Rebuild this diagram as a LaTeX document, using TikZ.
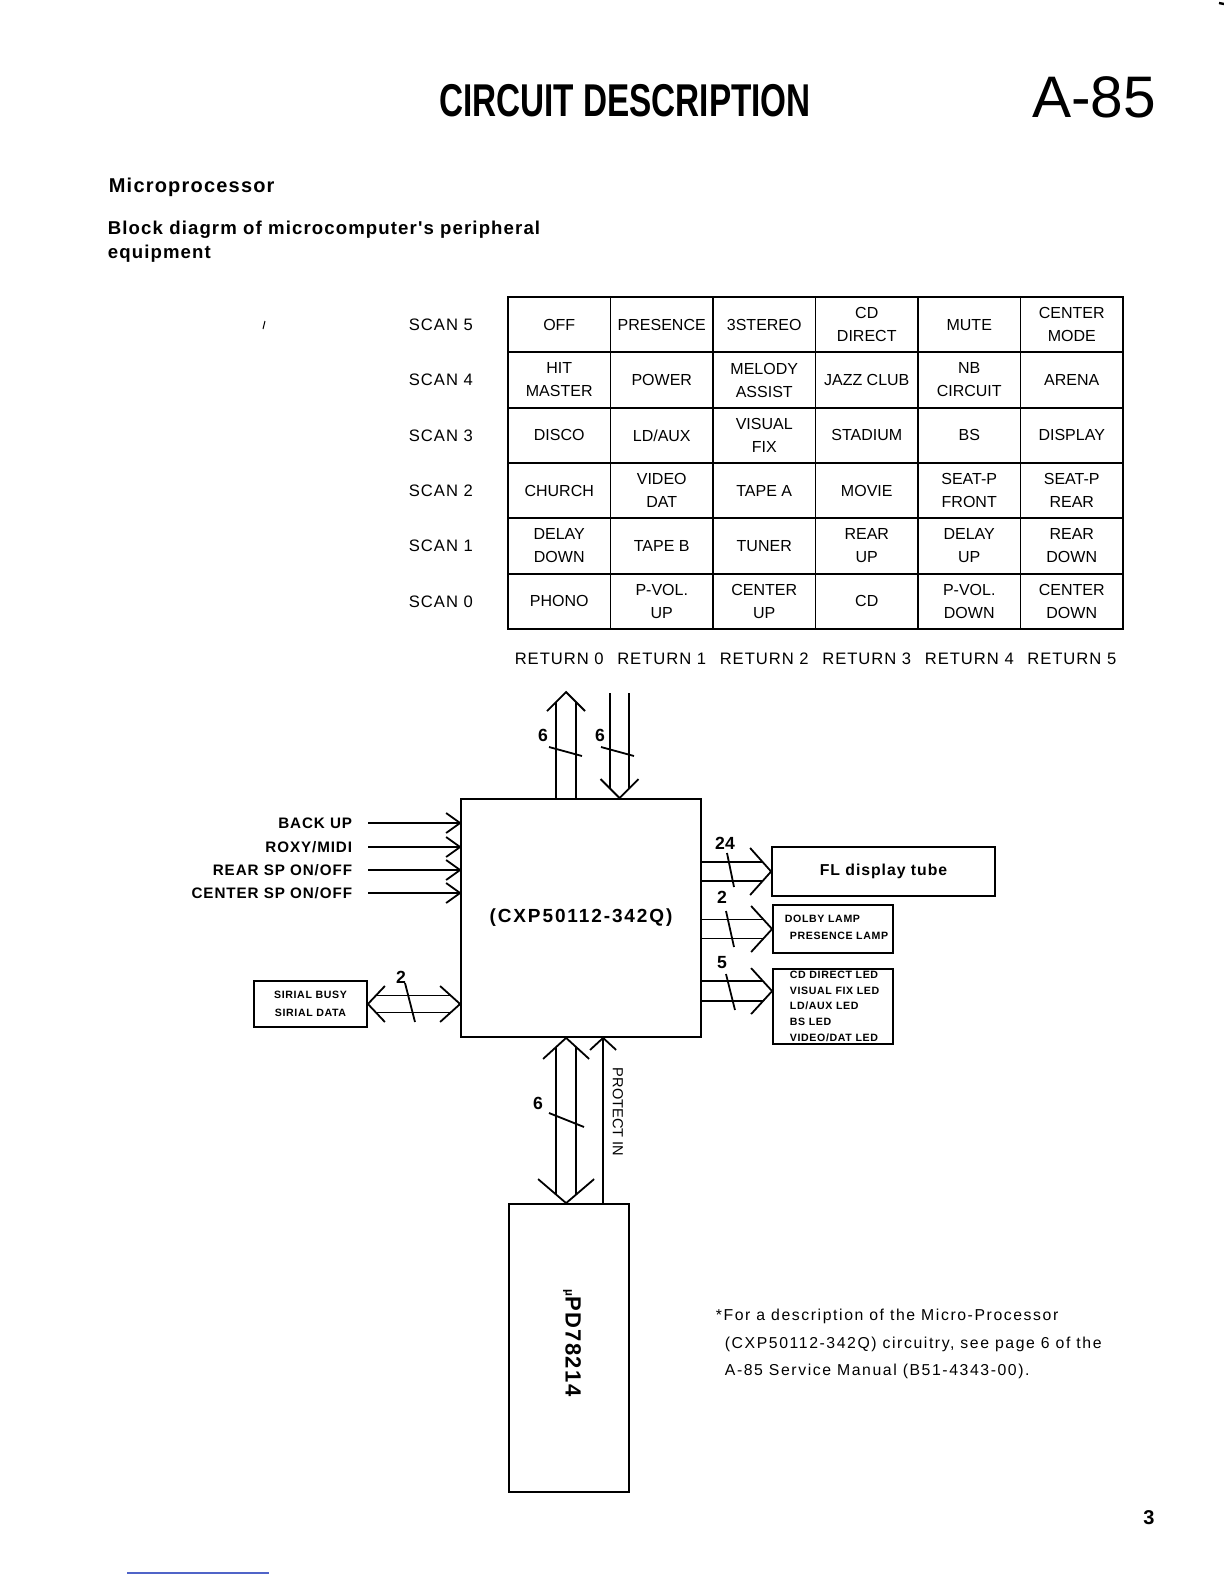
\documentclass[tikz,border=0pt]{standalone}
\usepackage{fontspec}
\setmainfont{Liberation Sans}
\newfontfamily\trk[LetterSpace=6]{Liberation Sans}
\newfontfamily\trkw[LetterSpace=10]{Liberation Sans}
\usetikzlibrary{calc}
\definecolor{scanblue}{RGB}{80,100,200}
\newcommand\chev[4]{\draw[shift={#1},rotate=#2] (-#3,-#4) -- (0,0) -- (-#3,#4);}
\begin{document}
\begin{tikzpicture}[x=0.5pt,y=-0.5pt,line width=0.9pt,
 cell/.style={draw,minimum width=51.25pt,minimum height=27.67pt,inner sep=0pt,align=center,font=\fontsize{8}{11.5}\selectfont},
 tlbl/.style={inner sep=0pt,font=\trk\fontsize{8.3}{10}\selectfont},
 inlbl/.style={anchor=east,inner sep=0pt,font=\trk\bfseries\fontsize{7.6}{9}\selectfont},
 num/.style={inner sep=0pt,font=\bfseries\fontsize{8.8}{10}\selectfont},
 tiny/.style={inner sep=0pt,anchor=west,font=\trk\bfseries\fontsize{5.3}{8.85}\selectfont},
 blk/.style={draw,inner sep=0pt},
 note/.style={inner sep=0pt,anchor=base west,font=\trkw\fontsize{7.9}{10}\selectfont}]
\useasboundingbox (0,0) rectangle (1224,1584);
\fill[white] (0,0) rectangle (1224,1584);

% header
\node[inner sep=0pt,anchor=base] (title) at (625,117) {\fontsize{23}{24}\selectfont\bfseries\scalebox{0.724}[1]{CIRCUIT DESCRIPTION}};
\node[inner sep=0pt,anchor=base] (model) at (1094,118) {\fontsize{29.3}{30}\selectfont A-85};
\node[inner sep=0pt,anchor=base west] (sec) at (108,192) {\trk\bfseries\fontsize{10}{12}\selectfont Microprocessor};
\node[inner sep=0pt,anchor=base west] (sub1) at (107,234) {\trk\bfseries\fontsize{9.3}{12}\selectfont Block diagrm of microcomputer's peripheral};
\node[inner sep=0pt,anchor=base west] (sub2) at (107,258) {\trk\bfseries\fontsize{9.3}{12}\selectfont equipment};

% key matrix
\foreach \row [count=\r from 0] in {
 {OFF,PRESENCE,3STEREO,{CD\\DIRECT},MUTE,{CENTER\\MODE}},
 {{HIT\\MASTER},POWER,{MELODY\\ASSIST},JAZZ CLUB,{NB\\CIRCUIT},ARENA},
 {DISCO,LD/AUX,{VISUAL\\FIX},STADIUM,BS,DISPLAY},
 {CHURCH,{VIDEO\\DAT},TAPE A,MOVIE,{SEAT-P\\FRONT},{SEAT-P\\REAR}},
 {{DELAY\\DOWN},TAPE B,TUNER,{REAR\\UP},{DELAY\\UP},{REAR\\DOWN}},
 {PHONO,{P-VOL.\\UP},{CENTER\\UP},CD,{P-VOL.\\DOWN},{CENTER\\DOWN}}}
 {\foreach \t [count=\c from 0] in \row
   {\node[cell] (cell-\r-\c) at (559.25+102.5*\c,324.67+55.33*\r) {\t};}}
\foreach \s [count=\r from 0] in {5,4,3,2,1,0}
 {\node[tlbl,anchor=west] (scan\s) at (408,324.67+55.33*\r) {SCAN \s};}
\foreach \k in {0,...,5}
 {\node[tlbl] (ret\k) at (559.25+102.5*\k,659) {RETURN \k};}

% main processor
\node[blk,minimum width=120pt,minimum height=119pt,font=\trkw\bfseries\fontsize{9.5}{11}\selectfont] (cxp) at (581,918) {(CXP50112-342Q)};

% inputs
\node[inlbl] (bu) at (353,823) {BACK UP};
\node[inlbl] (rm) at (353,847) {ROXY/MIDI};
\node[inlbl] (rs) at (353,870) {REAR SP ON/OFF};
\node[inlbl] (cs) at (353,893) {CENTER SP ON/OFF};
\foreach \n in {bu,rm,rs,cs}
 {\draw ([xshift=7.5pt]\n.east) -- (\n.east -| cxp.west);
  \chev{(\n.east -| cxp.west)}{0}{14}{10}}

% right outputs
\node[blk,minimum width=111.5pt,minimum height=24.5pt,font=\trk\bfseries\fontsize{7.9}{9}\selectfont] (fl) at (883.5,871.5) {FL display tube};
\node[blk,minimum width=60pt,minimum height=24pt] (dolby) at (833,929) {};
\node[blk,minimum width=60pt,minimum height=37.5pt] (led) at (833,1006.5) {};
\node[tiny] (t1) at (784,919) {DOLBY LAMP};
\node[tiny] (t2) at (789,936) {PRESENCE LAMP};
\node[tiny] (l1) at (789,975) {CD DIRECT LED};
\node[tiny] (l2) at (789,991) {VISUAL FIX LED};
\node[tiny] (l3) at (789,1006) {LD/AUX LED};
\node[tiny] (l4) at (789,1022) {BS LED};
\node[tiny] (l5) at (789,1038) {VIDEO/DAT LED};

\draw ($(fl.west -| cxp.east)+(0,-9.5)$) -- ($(fl.west)+(-8.5,-9.5)$);
\draw ($(fl.west -| cxp.east)+(0,9.5)$) -- ($(fl.west)+(-8.5,9.5)$);
\chev{(fl.west)}{0}{21}{23.5}
\draw (727,853) -- (734,887);
\node[num] (n24) at (725,843) {24};

\draw ($(dolby.west -| cxp.east)+(0,-9.5)$) -- ($(dolby.west)+(-8.7,-9.5)$);
\draw ($(dolby.west -| cxp.east)+(0,9.5)$) -- ($(dolby.west)+(-8.7,9.5)$);
\chev{(dolby.west)}{0}{21}{23}
\draw (726,911) -- (734,947);
\node[num] (n2a) at (722,897) {2};

\coordinate (ledin) at ($(led.north west)+(0,23)$);
\draw ($(ledin -| cxp.east)+(0,-10)$) -- ($(ledin)+(-9.1,-10)$);
\draw ($(ledin -| cxp.east)+(0,10)$) -- ($(ledin)+(-9.1,10)$);
\chev{(ledin)}{0}{21}{23}
\draw (726,974) -- (735,1010);
\node[num] (n5) at (722,963) {5};

% serial
\node[blk,minimum width=56.5pt,minimum height=23pt,align=center,font=\trk\bfseries\fontsize{5.3}{8.85}\selectfont] (ser) at (310.5,1004) {SIRIAL BUSY\\SIRIAL DATA};
\draw ($(ser.east)+(8,-8.5)$) -- ($(ser.east -| cxp.west)+(-9.4,-8.5)$);
\draw ($(ser.east)+(8,8.5)$) -- ($(ser.east -| cxp.west)+(-9.4,8.5)$);
\chev{(ser.east)}{180}{17}{18}
\chev{(ser.east -| cxp.west)}{0}{20}{18}
\draw (405,983) -- (415,1022);
\node[num] (n2b) at (401,977) {2};

% top buses
\coordinate (ua) at ($(cxp.north west)+(106,0)$);
\draw ($(ua)+(-10,0)$) -- ++(0,-96);
\draw ($(ua)+(10,0)$) -- ++(0,-96);
\chev{($(ua)+(0,-106)$)}{90}{19}{19}
\coordinate (da) at ($(cxp.north west)+(159.5,0)$);
\draw ($(da)+(-9.5,-105)$) -- ++(0,95.5);
\draw ($(da)+(9.5,-105)$) -- ++(0,95.5);
\chev{(da)}{-90}{19}{19}
\draw (549,747) -- (582,756);
\draw (601,747) -- (634,756);
\node[num] (n6a) at (543,735) {6};
\node[num] (n6b) at (600,735) {6};

% bottom
\node[blk,minimum width=60pt,minimum height=144pt] (upd) at (569,1348) {};
\node[rotate=-90,inner sep=0pt,font=\trk\bfseries\fontsize{11}{12}\selectfont] (updl) at (572,1343) {{\fontsize{6}{6}\selectfont µ}PD78214};
\coordinate (ba) at ($(cxp.south west)+(106,0)$);
\coordinate (bb) at (ba |- upd.north);
\draw ($(ba)+(-10,9)$) -- ($(bb)+(-10,-8.6)$);
\draw ($(ba)+(10,9)$) -- ($(bb)+(10,-8.6)$);
\chev{(ba)}{90}{21}{23}
\chev{(bb)}{-90}{24}{28}
\draw (549,1113) -- (584,1127);
\node[num] (n6c) at (538,1103) {6};
\coordinate (pa) at ($(cxp.south west)+(143,0)$);
\draw (pa |- upd.north) -- (pa);
\chev{(pa)}{90}{12}{13}
\node[rotate=-90,inner sep=0pt,font=\fontsize{7.3}{8}\selectfont] (prot) at (618,1112) {PROTECT IN};

% note
\node[note] (f1) at (715,1320) {*For a description of the Micro-Processor};
\node[note] (f2) at (724,1348) {(CXP50112-342Q) circuitry, see page 6 of the};
\node[note] (f3) at (724,1375) {A-85 Service Manual (B51-4343-00).};

% page number and marks
\node[inner sep=0pt,anchor=base,font=\bfseries\fontsize{10}{12}\selectfont] (pg) at (1149,1524) {3};
\draw[line width=0.6pt,scanblue] (127,1573) -- (269,1573);
\draw[line width=0.5pt] (263,329) -- (265,321);
\draw[line width=1.2pt] (1219,3) -- (1224,4);
\end{tikzpicture}
\end{document}
